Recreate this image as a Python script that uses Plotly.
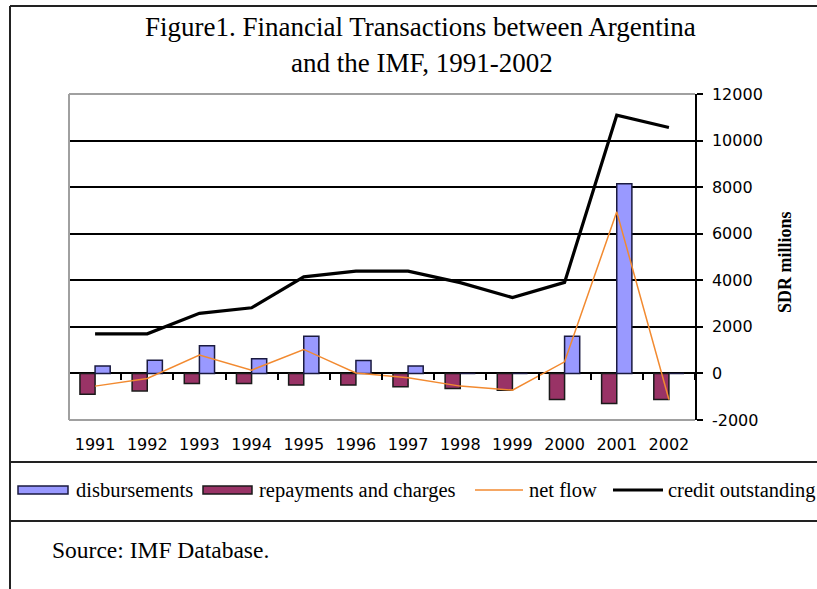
import plotly.graph_objects as go

# Argentina / IMF financial transactions, SDR millions
years = ["1991", "1992", "1993", "1994", "1995", "1996",
         "1997", "1998", "1999", "2000", "2001", "2002"]
disbursements = [320, 570, 1190, 630, 1600, 560, 320, 0, 0, 1600, 8150, 0]
repayments = [-890, -750, -430, -430, -500, -500, -575, -650, -720, -1120, -1290, -1120]
net_flow = [-545, -215, 785, 142, 1030, 20, -190, -545, -717, 500, 6940, -1117]
credit_outstanding = [1700, 1700, 2580, 2820, 4150, 4390, 4390, 3900, 3260, 3910, 11090, 10560]
y_ticks = [-2000, 0, 2000, 4000, 6000, 8000, 10000, 12000]

FIG_W, FIG_H = 817, 589
L, R, T, B = 69, 695, 94, 420          # plot area in pixels
PW, PH = R - L, B - T

def px(x):
    return (x - L) / PW

def py(y):
    return (B - y) / PH

SERIF = "Liberation Serif, Times New Roman, serif"
SANS = "DejaVu Sans, Verdana, sans-serif"
BLUE = "#9999FF"
PLUM = "#993366"
ORANGE = "#F28A30"

fig = go.Figure()
fig.add_trace(go.Bar(x=years, y=repayments, name="repayments and charges",
                     marker=dict(color=PLUM, line=dict(color="#1a1a1a", width=1.5))))
fig.add_trace(go.Bar(x=years, y=disbursements, name="disbursements",
                     marker=dict(color=BLUE, line=dict(color="#1a1a40", width=1.5))))
fig.add_trace(go.Scatter(x=years, y=net_flow, name="net flow", mode="lines",
                         line=dict(color=ORANGE, width=1.5), xaxis="x2"))
fig.add_trace(go.Scatter(x=years, y=credit_outstanding, name="credit outstanding",
                         mode="lines", line=dict(color="black", width=3.2), xaxis="x2"))

fig.update_layout(
    width=FIG_W, height=FIG_H, autosize=False,
    margin=dict(l=L, r=FIG_W - R, t=T, b=FIG_H - B, pad=0),
    paper_bgcolor="white", plot_bgcolor="white",
    showlegend=False, barmode="group", bargap=0.42, bargroupgap=0,
    xaxis=dict(type="category", categoryorder="array", categoryarray=years,
               range=[-0.5, 11.5], showgrid=False, showline=False, zeroline=False,
               ticks="", tickfont=dict(family=SANS, size=16, color="black"),
               ticklabelstandoff=13),
    xaxis2=dict(type="category", categoryorder="array", categoryarray=years,
                overlaying="x", matches="x", anchor="free",
                position=(0 - y_ticks[0]) / (y_ticks[-1] - y_ticks[0]),
                side="bottom", showticklabels=False, showgrid=False, showline=False,
                zeroline=False, ticks="outside", tickson="boundaries", ticklen=6,
                tickwidth=1.5, tickcolor="black"),
    yaxis=dict(side="right", range=[y_ticks[0], y_ticks[-1]], tickmode="array",
               tickvals=y_ticks, ticktext=[str(v) for v in y_ticks],
               showgrid=True, gridcolor="black", gridwidth=1.5,
               zeroline=True, zerolinecolor="black", zerolinewidth=1.5,
               showline=True, linecolor="black", linewidth=1.5,
               ticks="outside", ticklen=6, tickwidth=1.5, tickcolor="black",
               tickfont=dict(family=SANS, size=16, color="black"),
               ticklabelstandoff=6),
)

shapes = []
# gray plot-area border (top, left, bottom)
for x0, y0, x1, y1 in [(L, T, R, T), (L, T, L, B), (L, B, R, B)]:
    shapes.append(dict(type="line", xref="paper", yref="paper",
                       x0=px(x0), y0=py(y0), x1=px(x1), y1=py(y1),
                       line=dict(color="#A0A0A0", width=2), layer="above"))
# outer frame and separators
for x0, y0, x1, y1 in [(10, 6, 10, 589), (10, 6, 817, 6),
                       (10, 462, 817, 462), (10, 521, 817, 521)]:
    shapes.append(dict(type="line", xref="paper", yref="paper",
                       x0=px(x0), y0=py(y0), x1=px(x1), y1=py(y1),
                       line=dict(color="#222222", width=2), layer="above"))

# legend row
LEG_Y = 490
legend_items = [
    ("rect", BLUE, "#1a1a40", 18, 68, "disbursements", 74),
    ("rect", PLUM, "#1a1a1a", 203, 252, "repayments and charges", 257),
    ("line", ORANGE, None, 475, 523, "net flow", 527),
    ("line", "black", None, 613, 663, "credit outstanding", 666),
]
annotations = []
for kind, color, edge, x0, x1, label, tx in legend_items:
    if kind == "rect":
        shapes.append(dict(type="rect", xref="paper", yref="paper",
                           x0=px(x0), x1=px(x1), y0=py(LEG_Y + 4), y1=py(LEG_Y - 4),
                           fillcolor=color, line=dict(color=edge, width=1.5)))
    else:
        shapes.append(dict(type="line", xref="paper", yref="paper",
                           x0=px(x0), x1=px(x1), y0=py(LEG_Y), y1=py(LEG_Y),
                           line=dict(color=color, width=1.5 if color == ORANGE else 3)))
    annotations.append(dict(text=label, xref="paper", yref="paper",
                            x=px(tx), y=py(LEG_Y), xanchor="left", yanchor="middle",
                            showarrow=False,
                            font=dict(family=SERIF, size=20.5, color="black")))

# title, axis title, source
annotations += [
    dict(text="Figure1. Financial Transactions between Argentina", xref="paper",
         yref="paper", x=px(420), y=py(27), xanchor="center", yanchor="middle",
         showarrow=False, font=dict(family=SERIF, size=27, color="black")),
    dict(text="and the IMF, 1991-2002", xref="paper", yref="paper",
         x=px(422), y=py(63), xanchor="center", yanchor="middle",
         showarrow=False, font=dict(family=SERIF, size=27, color="black")),
    dict(text="<b>SDR millions</b>", xref="paper", yref="paper",
         x=px(785), y=py(262), xanchor="center", yanchor="middle", textangle=-90,
         showarrow=False, font=dict(family=SERIF, size=18, color="black")),
    dict(text="Source: IMF Database.", xref="paper", yref="paper",
         x=px(50), y=py(550), xanchor="left", yanchor="middle",
         showarrow=False, font=dict(family=SERIF, size=23.5, color="black")),
]

fig.update_layout(shapes=shapes, annotations=annotations)
fig.write_html("out.html")
